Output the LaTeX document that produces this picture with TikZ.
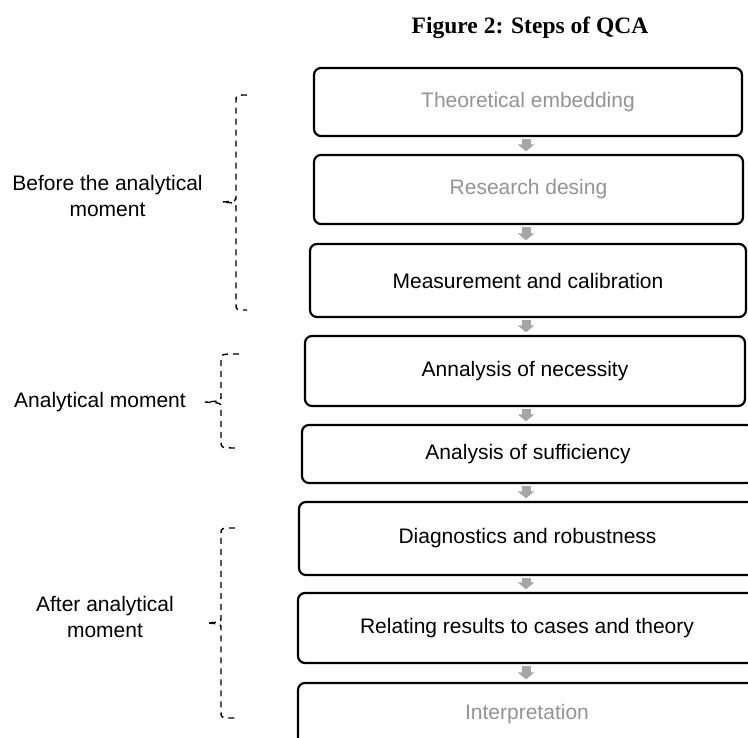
\documentclass[tikz,border=0pt]{standalone}
\usepackage{fontspec}
\setmainfont{Liberation Sans}
\newfontfamily\titlefont{Liberation Serif}
\usetikzlibrary{arrows.meta,calc}
\definecolor{txtgray}{RGB}{148,148,148}
\definecolor{arrgray}{RGB}{166,166,166}
\tikzset{
  stepbox/.style={draw=black, line width=2.2pt, rounded corners=7pt, inner sep=0pt,
    font=\fontsize{21}{25}\selectfont, fill=white},
  dimtext/.style={text=txtgray},
  flowarrow/.style={draw=arrgray, line width=9pt, -{Triangle[width=16pt,length=7pt]}},
  phasebrace/.style={draw=black, line width=1.4pt, dash pattern=on 6pt off 5pt},
  phaselabel/.style={font=\fontsize{21}{26}\selectfont, align=center, inner sep=0pt},
}
\begin{document}
\begin{tikzpicture}[x=1pt,y=-1pt]
\useasboundingbox (0,0) rectangle (748,738);
\clip (0,0) rectangle (748,738);

% title
\node[anchor=base, inner sep=0pt, font=\titlefont\bfseries\fontsize{23.5}{28}\selectfont] (title) at (530,34) {Figure 2: Steps of QCA};

% step boxes
\node[stepbox, dimtext, minimum width=428pt, minimum height=68pt] (b1) at (528,102) {Theoretical embedding};
\node[stepbox, dimtext, minimum width=429pt, minimum height=69pt] (b2) at (528.5,189.5) {Research desing};
\node[stepbox, minimum width=436pt, minimum height=73pt] (b3) at (528,280.5) {Measurement and calibration};
\node[stepbox, minimum width=440pt, minimum height=70pt] (b4) at (525,371) {Annalysis of necessity};
\node[stepbox, minimum width=452pt, minimum height=58pt] (b5) at (528,454) {Analysis of sufficiency};
\node[stepbox, minimum width=457pt, minimum height=73pt] (b6) at (527.5,538.5) {Diagnostics and robustness};
\node[stepbox, minimum width=458pt, minimum height=70pt] (b7) at (527,628) {Relating results to cases and theory};
\node[stepbox, dimtext, minimum width=458pt, minimum height=62pt] (b8) at (527,714) {Interpretation};

% arrows
\coordinate (ax) at (526,0);
\foreach \a/\b in {b1/b2,b2/b3,b3/b4,b4/b5,b5/b6,b6/b7,b7/b8}{
  \draw[flowarrow] ([yshift=-2pt]\a.south -| ax) -- ([yshift=2.5pt]\b.north -| ax);
}

% phase labels
\node[phaselabel] (l1) at (107.5,196.4) {Before the analytical\\moment};
\node[phaselabel, anchor=base] (l2) at (100,408) {Analytical moment};
\node[phaselabel] (l3) at (105,617.3) {After analytical\\moment};

% braces
\draw[phasebrace] (247,95) .. controls (236,95) .. (236,101) -- (236,197)
  .. controls (236,201) .. (222,202) .. controls (236,203) .. (236,207)
  -- (236,304) .. controls (236,310) .. (247,310);
\draw[phasebrace] (239,354) .. controls (221,354) .. (221,360) -- (221,397)
  .. controls (221,401) .. (205,402) .. controls (221,403) .. (221,407)
  -- (221,442) .. controls (221,448) .. (239,448);
\draw[phasebrace] (235,528) .. controls (221,528) .. (221,534) -- (221,618)
  .. controls (221,622) .. (207,623) .. controls (221,624) .. (221,628)
  -- (221,712) .. controls (221,718) .. (235,718);
\end{tikzpicture}
\end{document}
